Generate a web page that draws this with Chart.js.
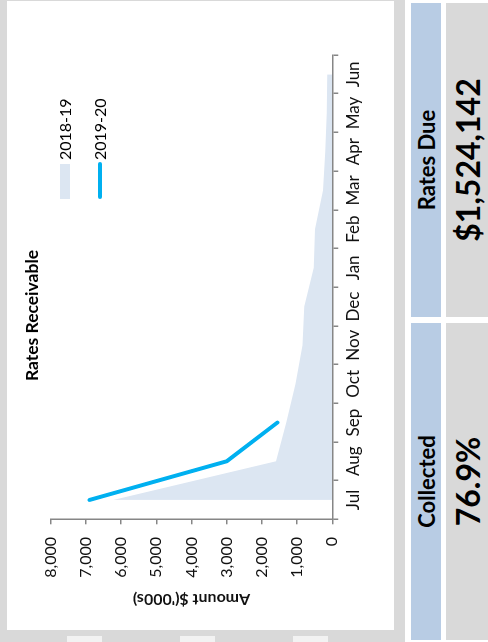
<!DOCTYPE html>
<html>
<head>
<meta charset="utf-8">
<script src="https://cdn.jsdelivr.net/npm/chart.js@4.4.1/dist/chart.umd.min.js"></script>
<style>
  html, body { margin: 0; padding: 0; width: 488px; height: 642px; overflow: hidden; background: #d9d9d9; }
  /* The dashboard is laid out landscape and turned a quarter-turn anticlockwise */
  #sheet {
    position: absolute; left: 0; top: 0; width: 642px; height: 488px;
    transform-origin: 0 0; transform: rotate(-90deg) translate(-642px, 0);
    background: #d9d9d9; font-family: Lato, "Noto Sans", sans-serif; color: #000;
  }
  .panel { position: absolute; left: 12px; top: 7px; width: 629px; height: 387px; background: #fff; }
  #chart { position: absolute; left: 0; top: 0; }
  .title { position: absolute; left: 0; top: 15px; width: 629px; line-height: 20px; text-align: center; font-weight: 700; font-size: 17.5px; }
  .legend-item { position: absolute; left: 431px; height: 20px; width: 140px; }
  .legend-item .sw { position: absolute; left: 0; }
  .legend-item .lbl { position: absolute; left: 39px; top: 0; line-height: 20px; font-size: 16px; white-space: nowrap; }
  .strip { position: absolute; left: 0; top: 405px; width: 642px; height: 83px; background: #fff; }
  .cell { position: absolute; display: flex; align-items: center; justify-content: center; font-weight: 700; white-space: nowrap; }
  .head { top: 411px; height: 30px; background: #b8cce4; font-size: 22px; }
  .val { top: 446px; height: 42px; background: #d9d9d9; font-size: 32px; }
  .nub { position: absolute; left: 0; width: 6px; height: 35px; background: #f2f2f2; }
</style>
</head>
<body>
<div id="sheet">
  <div class="nub" style="top:67px"></div>
  <div class="nub" style="top:180px"></div>
  <div class="nub" style="top:293px"></div>

  <div class="panel">
    <canvas id="chart" width="629" height="387"></canvas>
    <div class="title" id="title"></div>
    <div id="legend"></div>
  </div>

  <div class="strip"></div>
  <div class="cell head" style="left:325px;width:314px">Rates Due</div>
  <div class="cell val"  style="left:325px;width:314px">$1,524,142</div>
  <div class="cell head" style="left:2px;width:317px">Collected</div>
  <div class="cell val"  style="left:2px;width:317px">76.9%</div>
</div>

<script>
// Rates receivable balance by month, $'000s
const months = ['Jul', 'Aug', 'Sep', 'Oct', 'Nov', 'Dec', 'Jan', 'Feb', 'Mar', 'Apr', 'May', 'Jun'];
const receivable2018 = [6220, 1600, 1310, 1045, 850, 795, 530, 490, 265, 200, 160, 140];
const receivable2019 = [6900, 3000, 1560, null, null, null, null, null, null, null, null, null];
const amountTicks = [0, 1000, 2000, 3000, 4000, 5000, 6000, 7000, 8000];
const seriesNames = ['2018-19', '2019-20'];

const AREA_COLOR = '#dce6f2';
const LINE_COLOR = '#00b0f0';
const AXIS_COLOR = '#868686';
const TEXT_COLOR = '#111111';
const FONT = 'Lato, "Noto Sans", sans-serif';

document.getElementById('title').textContent = 'Rates Receivable';

// Legend: filled swatch for the area series, stroke for the line series
const legend = document.getElementById('legend');
seriesNames.forEach((name, i) => {
  const item = document.createElement('div');
  item.className = 'legend-item';
  item.style.top = (i === 0 ? 47.5 : 83) + 'px';
  const sw = document.createElement('div');
  sw.className = 'sw';
  if (i === 0) {
    Object.assign(sw.style, { top: '5px', width: '35px', height: '10px', background: AREA_COLOR });
  } else {
    Object.assign(sw.style, { top: '8px', width: '37px', height: '4px', background: LINE_COLOR, borderRadius: '2px' });
  }
  const lbl = document.createElement('div');
  lbl.className = 'lbl';
  lbl.textContent = name;
  item.appendChild(sw);
  item.appendChild(lbl);
  legend.appendChild(item);
});

new Chart(document.getElementById('chart'), {
  type: 'line',
  data: {
    labels: months,
    datasets: [
      {
        label: seriesNames[0], data: receivable2018, fill: 'origin',
        backgroundColor: AREA_COLOR, borderColor: 'rgba(0,0,0,0)', borderWidth: 0,
        pointRadius: 0, tension: 0, order: 2
      },
      {
        label: seriesNames[1], data: receivable2019, fill: false,
        borderColor: LINE_COLOR, borderWidth: 4, borderCapStyle: 'round', borderJoinStyle: 'round',
        pointRadius: 0, tension: 0, order: 1
      }
    ]
  },
  options: {
    responsive: false,
    animation: false,
    devicePixelRatio: 1,
    layout: { padding: { left: 20, right: 54, top: 43.7, bottom: 21.7 } },
    plugins: { legend: { display: false }, title: { display: false }, tooltip: { enabled: false } },
    scales: {
      x: {
        offset: true,
        grid: { offset: true, drawOnChartArea: false, drawTicks: true, tickLength: 6, color: AXIS_COLOR, lineWidth: 1.5 },
        border: { display: true, color: AXIS_COLOR, width: 1.5 },
        ticks: { color: TEXT_COLOR, font: { family: FONT, size: 17 }, padding: 5, maxRotation: 0, autoSkip: false },
        afterFit: s => { s.height = 40; }
      },
      y: {
        min: 0, max: 8000,
        grid: { drawOnChartArea: false, drawTicks: true, tickLength: 5, color: AXIS_COLOR, lineWidth: 1.5 },
        border: { display: true, color: AXIS_COLOR, width: 1.5 },
        ticks: {
          color: TEXT_COLOR, font: { family: FONT, size: 16 }, padding: 12.7,
          callback: v => v.toLocaleString('en-US')
        },
        afterBuildTicks: s => { s.ticks = amountTicks.map(v => ({ value: v })); },
        title: {
          display: true, text: "Amount $('000s)", color: TEXT_COLOR,
          font: { family: FONT, size: 16, weight: 'bold' }, padding: { top: 1, bottom: 0 }
        },
        afterFit: s => { s.width = 90.7; }
      }
    }
  }
});
</script>
</body>
</html>
